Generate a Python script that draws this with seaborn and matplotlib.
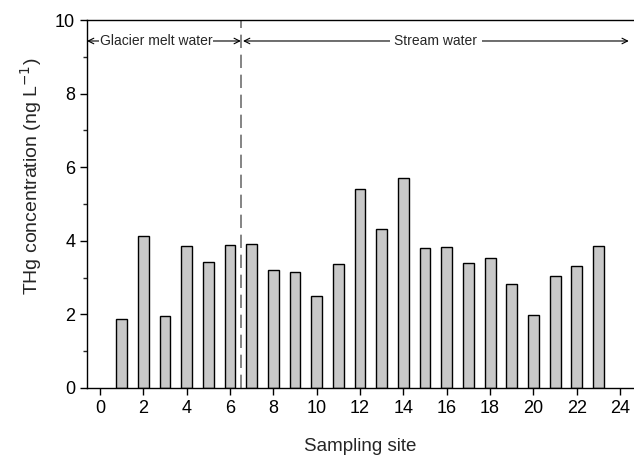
import numpy as np
import matplotlib
matplotlib.use("Agg")
import matplotlib.pyplot as plt
import pandas as pd
import seaborn as sns

# data
sites = list(range(1, 24))
thg = [1.87, 4.13, 1.96, 3.87, 3.42, 3.89, 3.90, 3.20, 3.15, 2.51, 3.36, 5.41,
       4.33, 5.70, 3.81, 3.83, 3.41, 3.53, 2.83, 1.97, 3.04, 3.31, 3.87]
xticks = list(range(0, 25, 2))
yticks = list(range(0, 11, 2))

df = pd.DataFrame({"site": sites, "thg": thg})

sns.set_style("ticks")
plt.rcParams['font.family'] = ['Liberation Sans', 'DejaVu Sans']

fig = plt.figure(figsize=(6.34, 4.55), dpi=100)
ax = fig.add_axes([0.1372, 0.1473, 0.8628, 0.8087])

sns.barplot(data=df, x="site", y="thg", native_scale=True, width=0.5,
            color="#c8c8c8", edgecolor="black", linewidth=1.0, saturation=1,
            ax=ax)

ax.set_xlim(-0.6, 24.64)
ax.set_ylim(0, 10)
ax.set_xticks(xticks)
ax.set_yticks(yticks)
ax.set_yticks(np.arange(1, 10, 2), minor=True)
ax.tick_params(axis="both", which="major", direction="out", length=5,
               width=1, labelsize=13, colors="black")
ax.tick_params(axis="x", which="major", pad=4)
ax.tick_params(axis="y", which="minor", direction="out", length=3, width=1)
for s in ["left", "bottom", "top"]:
    ax.spines[s].set_visible(True)
    ax.spines[s].set_linewidth(1)
    ax.spines[s].set_color("black")
ax.spines["right"].set_visible(False)

ax.set_xlabel("Sampling site", fontsize=13.5, labelpad=15)
ax.set_ylabel("THg concentration (ng L$^{-1}$)", fontsize=14, labelpad=10)
ax.yaxis.set_label_coords(-0.078, 0.575)

# divider between groups
ax.axvline(6.5, color="#707070", linestyle=(0, (8, 4)), linewidth=1.2)

# group arrows
ay = 9.43
arr = dict(arrowstyle="->", color="black", lw=0.8, shrinkA=0, shrinkB=0)
ax.annotate("", xy=(-0.6, ay), xytext=(2.6, ay), arrowprops=arr, zorder=1)
ax.annotate("", xy=(6.5, ay), xytext=(2.6, ay), arrowprops=arr, zorder=1)
ax.text(2.6, ay, "Glacier melt water", ha="center", va="center", fontsize=10,
        bbox=dict(facecolor="white", edgecolor="none", pad=0.5), zorder=5)
ax.annotate("", xy=(6.6, ay), xytext=(15.5, ay), arrowprops=arr, zorder=1)
ax.annotate("", xy=(24.4, ay), xytext=(15.5, ay), arrowprops=arr, zorder=1)
ax.text(15.5, ay, "Stream water", ha="center", va="center", fontsize=10,
        bbox=dict(facecolor="white", edgecolor="none", pad=3), zorder=5)

fig.savefig("out.png", dpi=100)
